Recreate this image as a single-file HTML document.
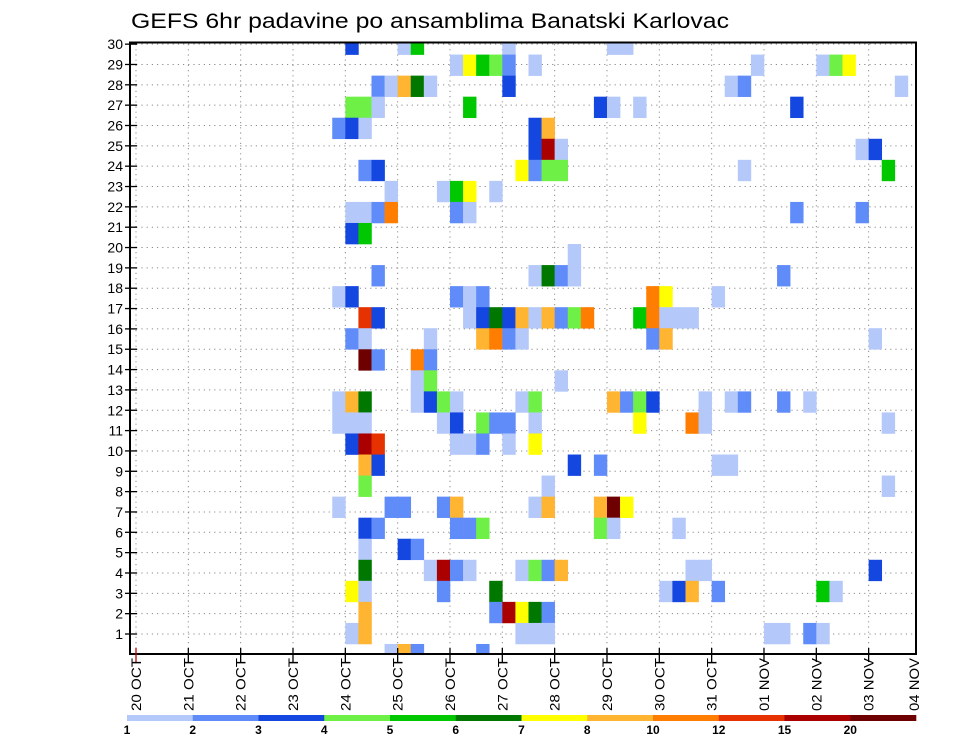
<!DOCTYPE html>
<html><head><meta charset="utf-8"><style>
html,body{margin:0;padding:0;background:#fff;}
svg{display:block;font-family:"Liberation Sans",sans-serif;}
</style></head><body>
<svg id="chart" width="960" height="742" viewBox="0 0 960 742" xmlns="http://www.w3.org/2000/svg">
<rect width="960" height="742" fill="#fff"/>
<text x="131" y="28" font-size="21" fill="#000" textLength="598" lengthAdjust="spacingAndGlyphs">GEFS 6hr padavine po ansamblima Banatski Karlovac</text>
<defs><clipPath id="plotclip"><rect x="130" y="42.5" width="786" height="611.5"/></clipPath></defs>
<g id="grid"></g>
<g id="cells" clip-path="url(#plotclip)"></g>
<rect x="130" y="42.5" width="786" height="611.5" fill="none" stroke="#000" stroke-width="2"/>
<g id="axes"></g>
<g id="legend"></g>
</svg>
<script>
// ---- data ----
const levels = [1,2,3,4,5,6,7,8,10,12,15,20];
const levelColors = ["#b4c8fa","#608cfa","#1446e0","#6ef046","#00c800","#007800","#ffff00","#ffb432","#ff7d00","#e63200","#aa0000","#6e0000"];
const dayLabels = ["20 OCT","21 OCT","22 OCT","23 OCT","24 OCT","25 OCT","26 OCT","27 OCT","28 OCT","29 OCT","30 OCT","31 OCT","01 NOV","02 NOV","03 NOV","04 NOV"];
const memberTicks = [1,2,3,4,5,6,7,8,9,10,11,12,13,14,15,16,17,18,19,20,21,22,23,24,25,26,27,28,29,30];
const members = [30,29,28,27,26,25,24,23,22,21,20,19,18,17,16,15,14,13,12,11,10,9,8,7,6,5,4,3,2,1];
const memberSteps = [
 [16,20,21,28,36,37],
 [24,25,26,27,28,30,47,52,53,54],
 [18,19,20,21,22,28,45,46,58],
 [16,17,18,25,35,36,38,50],
 [15,16,17,30,31],
 [30,31,32,55,56],
 [17,18,29,30,31,32,46,57],
 [19,23,24,25,27],
 [16,17,18,19,24,25,50,55],
 [16,17],
 [33],
 [18,30,31,32,33,49],
 [15,16,24,25,26,39,40,44],
 [17,18,25,26,27,28,29,30,31,32,33,34,38,39,40,41,42],
 [16,17,22,26,27,28,29,39,40,56],
 [17,18,21,22],
 [21,22,32],
 [15,16,17,21,22,23,24,29,30,36,37,38,39,43,45,46,49,51],
 [15,16,17,23,24,26,27,28,30,38,42,43,57],
 [16,17,18,24,25,26,28,30],
 [17,18,33,35,44,45],
 [17,31,57],
 [15,19,20,23,24,30,31,35,36,37],
 [17,18,24,25,26,35,36,41],
 [17,20,21],
 [17,22,23,24,25,29,30,31,32,42,43,56],
 [16,17,23,27,40,41,42,44,52,53],
 [17,27,28,29,30,31],
 [16,17,29,30,31,48,49,51,52],
 [19,20,21,26]
];
const memberValues = [
 [3.5,1.5,5.5,1.5,1.5,1.5],
 [1.5,7.5,5.5,4.5,2.5,1.5,1.5,1.5,4.5,7.5],
 [2.5,1.5,9,6.5,1.5,3.5,1.5,2.5,1.5],
 [4.5,4.5,1.5,5.5,3.5,1.5,1.5,3.5],
 [2.5,3.5,1.5,3.5,9],
 [3.5,17,1.5,1.5,3.5],
 [2.5,3.5,7.5,2.5,4.5,4.5,1.5,5.5],
 [1.5,1.5,5.5,7.5,1.5],
 [1.5,1.5,2.5,11,2.5,1.5,2.5,2.5],
 [3.5,5.5],
 [1.5],
 [2.5,1.5,6.5,2.5,1.5,2.5],
 [1.5,3.5,2.5,1.5,2.5,11,7.5,1.5],
 [13.5,3.5,1.5,3.5,6.5,3.5,9,1.5,9,2.5,4.5,11,5.5,11,1.5,1.5,1.5],
 [2.5,1.5,1.5,9,11,2.5,1.5,2.5,9,1.5],
 [25,2.5,11,2.5],
 [1.5,4.5,1.5],
 [1.5,9,6.5,1.5,3.5,4.5,1.5,1.5,4.5,9,2.5,4.5,3.5,1.5,1.5,2.5,2.5,1.5],
 [1.5,1.5,1.5,1.5,3.5,4.5,2.5,2.5,1.5,7.5,11,1.5,1.5],
 [3.5,17,13.5,1.5,1.5,2.5,1.5,7.5],
 [9,3.5,3.5,2.5,1.5,1.5],
 [4.5,1.5,1.5],
 [1.5,2.5,2.5,2.5,9,1.5,9,9,25,7.5],
 [3.5,2.5,2.5,2.5,4.5,4.5,1.5,1.5],
 [1.5,3.5,2.5],
 [6.5,1.5,17,2.5,1.5,1.5,4.5,2.5,9,1.5,1.5,3.5],
 [7.5,1.5,2.5,6.5,1.5,3.5,9,2.5,5.5,1.5],
 [9,2.5,17,7.5,6.5,2.5],
 [1.5,9,1.5,1.5,1.5,1.5,1.5,2.5,1.5],
 [1.5,9,2.5,2.5]
];

// ---- scales ----
const NS="http://www.w3.org/2000/svg";
const X0=136, STEP=13.083;
function xStep(s){return X0+s*STEP;}
function xDay(d){return X0+d*4*STEP;}
const ROWH=21.05;
function yCell(m){return 654.5-(m-1)*ROWH;}
function yTick(k){return 634-(k-1)*20.34;}
function colorFor(v){let c=null;for(let i=0;i<levels.length;i++){if(v>=levels[i])c=levelColors[i];}return c;}
function mk(tag,attrs,parent){const e=document.createElementNS(NS,tag);for(const k in attrs)e.setAttribute(k,attrs[k]);parent.appendChild(e);return e;}

// ---- grid ----
const grid=document.getElementById('grid');
memberTicks.forEach(k=>{
  const l=mk('line',{x1:131,x2:915,y1:yTick(k),y2:yTick(k),stroke:'#8a8a8a','stroke-width':1,'stroke-dasharray':'1.2,4'},grid);
  
  
});
dayLabels.forEach((lab,d)=>{
  const x=xDay(d); if(x>915) return;
  const l=mk('line',{x1:x,x2:x,y1:44,y2:653,stroke:'#8a8a8a','stroke-width':1,'stroke-dasharray':'1.2,4'},grid);
  
  
});

// ---- cells ----
const cells=document.getElementById('cells');
members.forEach((m,i)=>{
  memberSteps[i].forEach((s,j)=>{
    const v=memberValues[i][j]; const c=colorFor(v); if(!c) return;
    const r=mk('rect',{x:xStep(s),y:yCell(m)-ROWH/2,width:STEP+0.3,height:ROWH+0.3,fill:c},cells);
    
    
  });
});

// ---- axes ----
const axes=document.getElementById('axes');
memberTicks.forEach(k=>{
  const y=yTick(k);
  mk('line',{x1:125,x2:137,y1:y,y2:y,stroke:'#000','stroke-width':1.3},axes);
  const t=mk('text',{x:123,y:y+5,'font-size':14,'text-anchor':'end',fill:'#000'},axes);
  t.textContent=k;
  
  
});
dayLabels.forEach((lab,d)=>{
  let x=xDay(d);
  if(x<=917){
    mk('line',{x1:x,x2:x,y1:648,y2:662,stroke:d===0?'#c00000':'#000','stroke-width':1.3},axes);
  }
  if(x>913) x=914;
  const t=mk('text',{transform:'translate('+(x+5)+',711) rotate(-90)','font-size':14,fill:'#000',textLength:53,lengthAdjust:'spacingAndGlyphs'},axes);
  t.textContent=lab;
  
  
});

// ---- legend ----
const leg=document.getElementById('legend');
const LX0=127, LX1=916, segW=(LX1-LX0)/levels.length;
levels.forEach((lv,i)=>{
  const r=mk('rect',{x:LX0+i*segW,y:715,width:segW+0.3,height:6,fill:levelColors[i]},leg);
  
  
  const t=mk('text',{x:LX0+i*segW,y:734,'font-size':12,'font-weight':'bold','text-anchor':'middle',fill:'#000'},leg);
  t.textContent=lv;
  
  
});
</script>
</body></html>
